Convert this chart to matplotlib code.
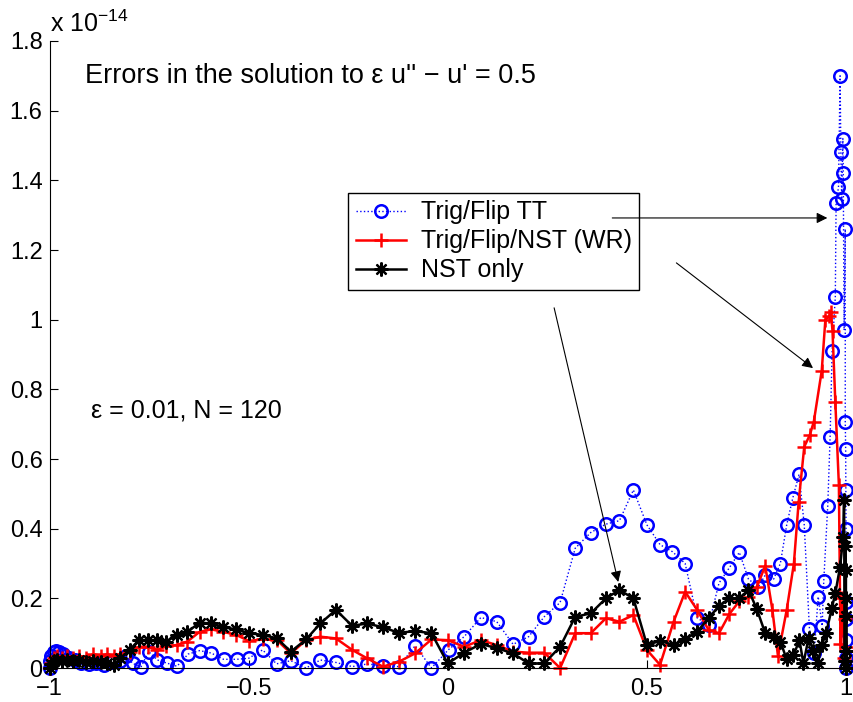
import matplotlib
matplotlib.use('Agg')
from matplotlib import pyplot as plt
from matplotlib.ticker import FuncFormatter

plt.rcParams['font.family'] = ['Liberation Sans', 'DejaVu Sans']
plt.rcParams['mathtext.fontset'] = 'custom'
plt.rcParams['mathtext.rm'] = 'Liberation Sans'

# errors, in units of 1e-14
tt_x = [-1.0, -0.999, -0.996, -0.99, -0.983, -0.975, -0.965, -0.952, -0.937, -0.92,
        -0.902, -0.883, -0.863, -0.843, -0.822, -0.808, -0.791, -0.770, -0.751, -0.729,
        -0.705, -0.680, -0.652, -0.623, -0.594, -0.563, -0.530, -0.500, -0.465, -0.430,
        -0.394, -0.356, -0.320, -0.281, -0.240, -0.203, -0.163, -0.123, -0.082, -0.041,
        0.002, 0.041, 0.083, 0.123, 0.164, 0.203, 0.242, 0.282, 0.320, 0.359,
        0.397, 0.431, 0.466, 0.500, 0.533, 0.564, 0.596, 0.626, 0.655, 0.681,
        0.707, 0.732, 0.755, 0.780, 0.797, 0.818, 0.835, 0.851, 0.866, 0.882,
        0.895, 0.908, 0.920, 0.930, 0.940, 0.944, 0.954, 0.960, 0.965, 0.973,
        0.975, 0.981, 0.985, 0.987, 0.989, 0.992, 0.993, 0.995, 0.998, 0.998,
        0.999, 0.9995, 1.0, 1.0, 1.0, 1.0, 1.0, 1.0]
tt_y = [0.0, 0.02, 0.035, 0.045, 0.05, 0.047, 0.04, 0.03, 0.022, 0.015,
        0.012, 0.015, 0.01, 0.018, 0.02, 0.035, 0.013, 0.004, 0.047, 0.023,
        0.014, 0.005, 0.040, 0.050, 0.043, 0.025, 0.025, 0.028, 0.052, 0.012,
        0.021, 0.0, 0.023, 0.016, 0.004, 0.0115, 0.007, 0.004, 0.064, 0.0,
        0.053, 0.090, 0.145, 0.133, 0.068, 0.090, 0.147, 0.188, 0.344, 0.389,
        0.413, 0.423, 0.511, 0.411, 0.354, 0.334, 0.300, 0.144, 0.123, 0.244,
        0.288, 0.332, 0.255, 0.233, 0.267, 0.255, 0.300, 0.411, 0.487, 0.556,
        0.411, 0.113, 0.043, 0.205, 0.121, 0.25, 0.465, 0.664, 0.911, 1.065,
        1.335, 1.38, 1.70, 1.48, 1.345, 1.52, 1.42, 0.97, 1.26, 0.706,
        0.629, 0.511, 0.40, 0.19, 0.14, 0.08, 0.03, 0.0]

wr_x = [-1.0, -0.997, -0.99, -0.98, -0.968, -0.955, -0.94, -0.925, -0.908, -0.89,
        -0.872, -0.855, -0.839, -0.822, -0.799, -0.776, -0.754, -0.729, -0.707, -0.680,
        -0.654, -0.623, -0.594, -0.564, -0.531, -0.500, -0.464, -0.429, -0.394, -0.356,
        -0.320, -0.281, -0.240, -0.203, -0.163, -0.123, -0.082, -0.041, 0.0, 0.041,
        0.083, 0.123, 0.164, 0.203, 0.242, 0.282, 0.320, 0.359, 0.397, 0.431,
        0.466, 0.500, 0.533, 0.567, 0.596, 0.626, 0.655, 0.681, 0.707, 0.732,
        0.755, 0.776, 0.797, 0.815, 0.829, 0.851, 0.869, 0.881, 0.895, 0.909,
        0.919, 0.939, 0.948, 0.958, 0.962, 0.966, 0.973, 0.982, 0.986, 0.991,
        0.995, 0.998, 0.999, 1.0]
wr_y = [0.0, 0.015, 0.03, 0.035, 0.03, 0.035, 0.028, 0.035, 0.03, 0.04,
        0.035, 0.04, 0.035, 0.04, 0.045, 0.061, 0.061, 0.052, 0.062, 0.066,
        0.076, 0.104, 0.111, 0.104, 0.095, 0.078, 0.082, 0.080, 0.042, 0.080,
        0.090, 0.085, 0.052, 0.028, 0.004, 0.018, 0.042, 0.082, 0.080, 0.061,
        0.080, 0.066, 0.047, 0.044, 0.044, 0.0, 0.100, 0.100, 0.143, 0.133,
        0.152, 0.052, 0.009, 0.133, 0.219, 0.167, 0.109, 0.100, 0.155, 0.192,
        0.203, 0.232, 0.294, 0.167, 0.035, 0.167, 0.300, 0.477, 0.635, 0.669,
        0.707, 0.854, 0.999, 1.010, 1.023, 0.967, 0.765, 0.525, 0.070, 0.20,
        0.03, 0.14, 0.06, 0.0]

nst_x = [-1.0, -0.997, -0.99, -0.98, -0.968, -0.955, -0.94, -0.925, -0.908, -0.89,
         -0.872, -0.855, -0.839, -0.822, -0.799, -0.776, -0.754, -0.729, -0.707, -0.680,
         -0.654, -0.623, -0.594, -0.564, -0.531, -0.500, -0.464, -0.429, -0.394, -0.356,
         -0.320, -0.281, -0.240, -0.203, -0.163, -0.123, -0.082, -0.041, 0.0, 0.041,
         0.083, 0.123, 0.164, 0.203, 0.242, 0.282, 0.320, 0.359, 0.397, 0.431,
         0.466, 0.500, 0.533, 0.567, 0.596, 0.626, 0.655, 0.681, 0.707, 0.732,
         0.755, 0.776, 0.797, 0.818, 0.835, 0.851, 0.868, 0.883, 0.893, 0.906,
         0.918, 0.929, 0.939, 0.950, 0.964, 0.973, 0.985, 0.993, 0.995, 0.997,
         0.998, 0.999, 0.9995, 1.0, 1.0, 1.0]
nst_y = [0.0, 0.012, 0.02, 0.022, 0.02, 0.024, 0.02, 0.022, 0.018, 0.02,
         0.018, 0.015, 0.009, 0.028, 0.052, 0.080, 0.080, 0.080, 0.076, 0.095,
         0.104, 0.130, 0.128, 0.117, 0.111, 0.100, 0.095, 0.085, 0.047, 0.082,
         0.128, 0.167, 0.121, 0.128, 0.117, 0.101, 0.106, 0.100, 0.013, 0.044,
         0.069, 0.057, 0.042, 0.013, 0.013, 0.061, 0.147, 0.157, 0.200, 0.224,
         0.200, 0.066, 0.078, 0.066, 0.082, 0.104, 0.144, 0.178, 0.200, 0.200,
         0.224, 0.169, 0.100, 0.090, 0.076, 0.025, 0.037, 0.080, 0.013, 0.087,
         0.050, 0.013, 0.066, 0.100, 0.171, 0.214, 0.291, 0.377, 0.482, 0.02,
         0.35, 0.15, 0.28, 0.05, 0.2, 0.0]

labels = ['Trig/Flip TT', 'Trig/Flip/NST (WR)', 'NST only']

fig = plt.figure(figsize=(8.54, 7.02), dpi=100)
ax = fig.add_axes([0.058, 0.0484, 0.9327, 0.8932])

ax.plot(tt_x, tt_y, ':', color='b', lw=1.0, marker='o', ms=9, mew=1.8,
        mfc='none', mec='b', clip_on=False, label=labels[0])
ax.plot(wr_x, wr_y, '-', color='r', lw=1.8, marker='+', ms=10.5, mew=1.8,
        clip_on=False, label=labels[1])
ax.plot(nst_x, nst_y, '-', color='k', lw=1.8, marker=(8, 2, 0), ms=10, mew=1.6,
        clip_on=False, label=labels[2])

ax.set_xlim(-1, 1)
ax.set_ylim(0, 1.8)
ax.set_xticks([-1, -0.5, 0, 0.5, 1])
ax.set_yticks([0, 0.2, 0.4, 0.6, 0.8, 1, 1.2, 1.4, 1.6, 1.8])
fmt = FuncFormatter(lambda v, p: f'{v:g}'.replace('-', '\u2212'))
ax.xaxis.set_major_formatter(fmt)
ax.yaxis.set_major_formatter(fmt)
ax.tick_params(direction='in', length=6, width=0.8, labelsize=17, colors='k')
ax.tick_params(axis='x', pad=7)
ax.tick_params(axis='y', pad=5)
ax.spines['top'].set_visible(False)
ax.spines['right'].set_visible(False)
for s in ['left', 'bottom']:
    ax.spines[s].set_linewidth(0.8)

leg = ax.legend(loc='upper left', bbox_to_anchor=(0.375, 0.7576), borderaxespad=0,
                fontsize=18, fancybox=False, edgecolor='k', framealpha=1,
                handlelength=2.0, handletextpad=0.6, borderpad=0.3, labelspacing=0.2)
leg.get_frame().set_linewidth(1.0)

ax.text(-0.910, 1.679, "Errors in the solution to \u03b5 u'' \u2212 u' = 0.5",
        fontsize=19.5, va='baseline')
ax.text(-0.897, 0.718, '\u03b5 = 0.01, N = 120', fontsize=18, va='baseline')
fig.text(0.0585, 0.954, r'x 10$^{\mathregular{-14}}$', fontsize=18, va='baseline')

arrow = dict(arrowstyle='-|>', color='k', lw=0.8, mutation_scale=16,
             shrinkA=0, shrinkB=0)
for tip, start in [((0.953, 1.292), (0.413, 1.292)),
                   ((0.917, 0.861), (0.574, 1.163)),
                   ((0.428, 0.247), (0.267, 1.034))]:
    ax.annotate('', xy=tip, xytext=start, arrowprops=arrow, zorder=6)

fig.savefig('out.png', dpi=100)
